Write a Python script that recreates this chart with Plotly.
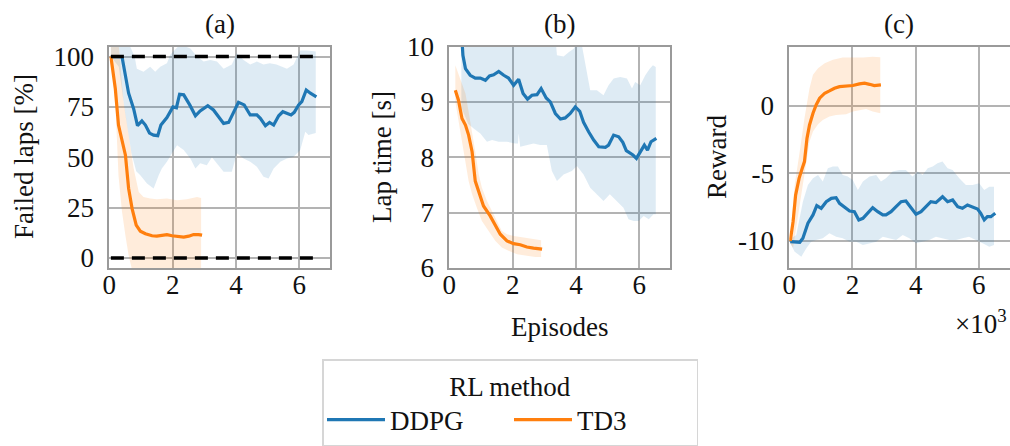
import plotly.graph_objects as go
from plotly.subplots import make_subplots

# ---------------- data (x in thousands of episodes) ----------------
# (a) Failed laps [%]
a_ddpg_x = [0.05, 0.4, 0.61, 0.77, 0.89, 1.03, 1.14, 1.27, 1.4, 1.53, 1.63, 1.82, 2.01, 2.12, 2.22, 2.35, 2.54, 2.72, 2.87, 2.98, 3.11, 3.29, 3.45, 3.61, 3.77, 3.93, 4.08, 4.26, 4.45, 4.66, 4.77, 4.93, 5.06, 5.19, 5.35, 5.48, 5.61, 5.74, 5.84, 5.98, 6.08, 6.22, 6.35, 6.54]
a_ddpg_y = [100, 100, 81.8, 74, 65.7, 68, 66, 62, 61, 60.7, 66, 69.7, 75, 74.6, 81.3, 81, 76, 70.6, 73, 74.3, 75.6, 73.5, 70, 66.8, 67.3, 72.6, 77.3, 76, 71, 71, 69.3, 65.7, 67.3, 66, 70.6, 72.6, 71.8, 71, 72.3, 76, 77.6, 83.4, 81.8, 80]
a_ddpg_hi_x = [0.05, 0.6, 0.8, 0.87, 1.08, 1.29, 1.45, 1.61, 1.82, 1.92, 2.05, 2.24, 2.56, 2.77, 2.98, 3.19, 3.4, 3.61, 3.87, 4.03, 4.24, 4.45, 4.66, 4.87, 5.07, 5.28, 5.61, 5.82, 6.03, 6.24, 6.52]
a_ddpg_hi = [107, 107, 100, 94, 92.5, 95, 92.5, 95, 96.7, 100.8, 103, 106, 104, 100, 97.5, 98.3, 97.5, 94, 96, 101.6, 98.3, 96, 97.5, 96, 96.7, 96, 94, 96, 103, 103, 102.5]
a_ddpg_lo_x = [0.05, 0.3, 0.5, 0.7, 0.85, 0.98, 1.19, 1.4, 1.56, 1.66, 1.82, 1.98, 2.14, 2.35, 2.56, 2.72, 2.87, 3.08, 3.24, 3.4, 3.61, 3.87, 4.03, 4.24, 4.45, 4.66, 4.87, 5.03, 5.19, 5.4, 5.61, 5.82, 6.03, 6.19, 6.29, 6.52]
a_ddpg_lo = [100, 95, 72, 52, 43, 41, 37, 34.5, 41, 44.4, 47.8, 52, 56, 53.6, 49.4, 44.4, 47, 46, 50, 47, 42.8, 42.8, 52, 49.4, 47.8, 45.3, 40.3, 39.5, 44.4, 47.8, 49.4, 50.2, 53.6, 62.7, 61, 62]
a_td3_x = [0.05, 0.19, 0.29, 0.4, 0.51, 0.61, 0.72, 0.85, 0.98, 1.14, 1.35, 1.5, 1.66, 1.82, 1.98, 2.14, 2.35, 2.51, 2.66, 2.82, 2.93]
a_td3_y = [100, 84, 66, 57.7, 51, 34.5, 24.5, 16.3, 13.3, 12, 11, 10.8, 11.3, 11.6, 11, 10.6, 10.3, 10.8, 11.6, 11.6, 11.3]
a_td3_hi_x = [0.05, 0.3, 0.45, 0.61, 0.77, 0.93, 1.08, 1.29, 1.5, 1.82, 2.14, 2.45, 2.77, 2.9]
a_td3_hi = [108, 105, 77.6, 61, 44.4, 32.8, 30.3, 29.5, 29.2, 29.5, 28.7, 29.2, 30.3, 29.8]
a_td3_lo_x = [0.05, 0.19, 0.29, 0.4, 0.51, 0.61, 0.75, 2.9]
a_td3_lo = [99, 77.6, 41, 23, 11, 1.3, -8, -8]
a_limits = [0, 100]

# (b) Lap time [s]
b_ddpg_x = [0.38, 0.43, 0.51, 0.66, 0.82, 0.98, 1.14, 1.27, 1.4, 1.56, 1.72, 1.87, 2.03, 2.19, 2.33, 2.47, 2.61, 2.77, 2.9, 3.06, 3.19, 3.35, 3.51, 3.66, 3.82, 3.98, 4.12, 4.24, 4.4, 4.56, 4.72, 4.93, 5.03, 5.19, 5.35, 5.48, 5.59, 5.72, 5.8, 5.91, 6.03, 6.16, 6.26, 6.37, 6.54]
b_ddpg_y = [10.3, 9.84, 9.6, 9.48, 9.43, 9.43, 9.39, 9.47, 9.49, 9.55, 9.48, 9.43, 9.3, 9.41, 9.15, 9.05, 9.12, 9.13, 9.24, 9.07, 9.0, 8.79, 8.69, 8.71, 8.79, 8.91, 8.83, 8.63, 8.46, 8.31, 8.19, 8.18, 8.22, 8.4, 8.37, 8.27, 8.12, 8.07, 8.04, 7.98, 8.1, 8.22, 8.13, 8.28, 8.34]
b_ddpg_hi_x = [0.38, 3.3, 3.4, 3.61, 3.78, 3.93, 4.13, 4.29, 4.45, 4.66, 4.87, 5.03, 5.19, 5.4, 5.61, 5.77, 5.87, 6.03, 6.19, 6.33, 6.43, 6.52]
b_ddpg_hi = [10.5, 10.5, 9.84, 9.82, 9.9, 9.96, 10.2, 9.72, 9.21, 9.21, 9.12, 9.3, 9.42, 9.45, 9.42, 9.24, 9.36, 9.3, 9.48, 9.6, 9.66, 9.63]
b_ddpg_lo_x = [0.38, 0.6, 0.77, 0.98, 1.19, 1.35, 1.56, 1.82, 2.08, 2.17, 2.19, 2.24, 2.45, 2.66, 2.87, 3.08, 3.24, 3.4, 3.61, 3.87, 4.03, 4.24, 4.45, 4.66, 4.87, 5.07, 5.28, 5.5, 5.66, 5.82, 5.98, 6.14, 6.3, 6.45, 6.52]
b_ddpg_lo = [8.9, 8.6, 8.52, 8.43, 8.28, 8.31, 8.28, 8.28, 8.25, 8.25, 8.43, 8.19, 8.22, 8.25, 8.22, 8.22, 7.75, 7.57, 7.69, 7.75, 7.84, 7.69, 7.45, 7.33, 7.21, 7.33, 7.21, 7.09, 6.88, 6.85, 6.85, 6.94, 6.88, 6.97, 6.97]
b_td3_x = [0.19, 0.29, 0.4, 0.51, 0.61, 0.72, 0.82, 0.93, 1.08, 1.29, 1.45, 1.61, 1.82, 2.03, 2.24, 2.45, 2.66, 2.93]
b_td3_y = [9.21, 9.03, 8.7, 8.58, 8.4, 8.1, 7.57, 7.39, 7.12, 6.94, 6.76, 6.61, 6.49, 6.44, 6.42, 6.38, 6.36, 6.34]
b_td3_hi_x = [0.19, 0.35, 0.51, 0.61, 0.72, 0.82, 0.93, 1.03, 1.19, 1.35, 1.5, 1.66, 1.82, 2.03, 2.35, 2.66, 2.9]
b_td3_hi = [9.66, 9.42, 9.15, 8.82, 8.46, 8.1, 7.69, 7.45, 7.21, 7.03, 6.85, 6.67, 6.61, 6.58, 6.55, 6.52, 6.5]
b_td3_lo_x = [0.19, 0.29, 0.4, 0.51, 0.61, 0.72, 0.87, 1.03, 1.24, 1.45, 1.66, 1.87, 2.14, 2.45, 2.72, 2.9]
b_td3_lo = [9.0, 8.7, 8.28, 7.92, 7.57, 7.33, 7.09, 6.85, 6.67, 6.49, 6.37, 6.31, 6.25, 6.22, 6.2, 6.2]

# (c) Reward
c_ddpg_x = [0.03, 0.17, 0.33, 0.43, 0.59, 0.75, 0.87, 1.01, 1.17, 1.33, 1.48, 1.59, 1.75, 1.91, 2.06, 2.2, 2.33, 2.48, 2.64, 2.8, 2.96, 3.06, 3.22, 3.38, 3.54, 3.69, 3.85, 4.01, 4.17, 4.33, 4.48, 4.64, 4.85, 5.01, 5.17, 5.33, 5.48, 5.64, 5.8, 5.96, 6.06, 6.17, 6.27, 6.38, 6.52]
c_ddpg_y = [-10.05, -10.05, -10.1, -9.8, -8.69, -8.07, -7.38, -7.58, -7.09, -6.84, -6.79, -7.21, -7.46, -7.78, -7.83, -8.44, -8.32, -7.95, -7.53, -7.83, -8.07, -8.07, -7.83, -7.46, -7.09, -7.04, -7.58, -8.02, -7.83, -7.46, -7.09, -7.16, -6.72, -7.09, -6.96, -7.46, -7.58, -7.33, -7.46, -7.63, -7.95, -8.44, -8.2, -8.2, -7.95]
c_ddpg_hi_x = [0.03, 0.22, 0.43, 0.59, 0.75, 0.91, 1.06, 1.22, 1.38, 1.54, 1.69, 1.85, 2.01, 2.17, 2.33, 2.54, 2.75, 2.9, 3.06, 3.27, 3.48, 3.69, 3.9, 4.06, 4.22, 4.38, 4.54, 4.69, 4.85, 5.01, 5.17, 5.38, 5.59, 5.8, 6.01, 6.17, 6.33, 6.48]
c_ddpg_hi = [-9.85, -9.56, -7.09, -5.85, -5.36, -5.11, -5.6, -4.62, -4.49, -4.49, -5.11, -5.23, -5.48, -6.22, -5.6, -5.23, -5.11, -5.6, -5.36, -4.86, -4.74, -4.74, -5.23, -4.86, -5.11, -4.62, -4.49, -4.25, -4.12, -4.62, -4.74, -5.36, -5.85, -5.85, -5.73, -6.22, -5.98, -5.98]
c_ddpg_lo_x = [0.03, 0.17, 0.38, 0.54, 0.69, 0.85, 1.06, 1.27, 1.48, 1.69, 1.91, 2.12, 2.33, 2.54, 2.75, 2.96, 3.17, 3.38, 3.59, 3.8, 4.01, 4.22, 4.43, 4.64, 4.85, 5.07, 5.28, 5.48, 5.69, 5.9, 6.12, 6.33, 6.48]
c_ddpg_lo = [-10.17, -10.8, -11.16, -10.54, -10.05, -9.93, -9.8, -9.43, -9.68, -9.8, -10.05, -10.05, -10.3, -10.17, -10.05, -9.68, -9.8, -9.93, -9.56, -9.8, -10.17, -10.05, -9.93, -9.68, -9.8, -9.93, -9.93, -9.8, -9.68, -9.93, -10.17, -10.42, -10.3]
c_td3_x = [0.03, 0.12, 0.2, 0.31, 0.41, 0.48, 0.56, 0.64, 0.75, 0.85, 0.96, 1.12, 1.27, 1.43, 1.59, 1.8, 2.01, 2.22, 2.38, 2.54, 2.69, 2.9]
c_td3_y = [-10, -8.57, -6.6, -5.36, -4.62, -4.12, -2.4, -1.41, -0.54, 0.07, 0.57, 0.94, 1.11, 1.31, 1.43, 1.48, 1.51, 1.63, 1.68, 1.6, 1.51, 1.56]
c_td3_hi_x = [0.03, 0.17, 0.33, 0.48, 0.64, 0.75, 0.91, 1.12, 1.38, 1.69, 2.01, 2.33, 2.64, 2.88]
c_td3_hi = [-9.8, -5.85, -3.38, -0.91, 1.31, 2.3, 2.79, 3.16, 3.41, 3.58, 3.58, 3.58, 3.65, 3.6]
c_td3_lo_x = [0.03, 0.12, 0.22, 0.33, 0.43, 0.54, 0.64, 0.75, 0.91, 1.06, 1.27, 1.48, 1.8, 2.01, 2.22, 2.43, 2.64, 2.88]
c_td3_lo = [-10.17, -10.5, -8.8, -7.1, -5.6, -4.12, -2.64, -1.9, -1.36, -1.04, -0.79, -0.67, -0.62, -0.42, -0.3, -0.22, -0.42, -0.54]

panel_titles = ["(a)", "(b)", "(c)"]
y_titles = ["Failed laps [%]", "Lap time [s]", "Reward"]
x_ticks = [0, 2, 4, 6]
y_ticks = [[0, 25, 50, 75, 100], [6, 7, 8, 9, 10], [-10, -5, 0]]
y_ticktext = [["0", "25", "50", "75", "100"], ["6", "7", "8", "9", "10"], ["-10", "-5", "0"]]
y_ranges = [[-5, 105], [6, 10], [-12, 4.4]]
methods = ["DDPG", "TD3"]

# ---------------- styling ----------------
W, H = 1010, 446
FONT = "Liberation Serif, Times New Roman, serif"
FS = 27
COLORS = {"DDPG": "#1f77b4", "TD3": "#ff7f0e"}
FILLS = {"DDPG": "rgba(31,119,180,0.15)", "TD3": "rgba(255,127,14,0.15)"}
TXT = "#111111"

fig = make_subplots(rows=1, cols=3)

panels = [
    {"DDPG": (a_ddpg_x, a_ddpg_y, a_ddpg_hi_x, a_ddpg_hi, a_ddpg_lo_x, a_ddpg_lo),
     "TD3": (a_td3_x, a_td3_y, a_td3_hi_x, a_td3_hi, a_td3_lo_x, a_td3_lo)},
    {"DDPG": (b_ddpg_x, b_ddpg_y, b_ddpg_hi_x, b_ddpg_hi, b_ddpg_lo_x, b_ddpg_lo),
     "TD3": (b_td3_x, b_td3_y, b_td3_hi_x, b_td3_hi, b_td3_lo_x, b_td3_lo)},
    {"DDPG": (c_ddpg_x, c_ddpg_y, c_ddpg_hi_x, c_ddpg_hi, c_ddpg_lo_x, c_ddpg_lo),
     "TD3": (c_td3_x, c_td3_y, c_td3_hi_x, c_td3_hi, c_td3_lo_x, c_td3_lo)},
]

for i, pdata in enumerate(panels):
    col = i + 1
    for m in methods:
        x, y, hx, hi, lx, lo = pdata[m]
        fig.add_trace(go.Scatter(x=list(hx) + list(lx)[::-1], y=list(hi) + list(lo)[::-1],
                                 fill="toself", fillcolor=FILLS[m], mode="lines",
                                 line=dict(width=0), hoverinfo="skip", showlegend=False),
                      row=1, col=col)
    for m in methods:
        x, y, hx, hi, lx, lo = pdata[m]
        fig.add_trace(go.Scatter(x=x, y=y, mode="lines", name=m,
                                 line=dict(color=COLORS[m], width=3.2),
                                 legendgroup=m, showlegend=(i == 0)),
                      row=1, col=col)

for v in a_limits:
    fig.add_trace(go.Scatter(x=[a_ddpg_x[0], a_ddpg_x[-1]], y=[v, v], mode="lines",
                             line=dict(color="black", width=3.4, dash="13px,8px"),
                             showlegend=False, hoverinfo="skip"), row=1, col=1)

x_doms = [(109.3, 330.0), (449.3, 670.0), (789.3, 1009.5)]
y_dom = (1 - 268.0 / H, 1 - 46.5 / H)
axis_common = dict(showline=True, linecolor="#9a9a9a", linewidth=2, mirror=True,
                   showgrid=True, gridcolor="#b3b3b3", gridwidth=1.6, zeroline=False,
                   automargin=False, ticks="",
                   tickfont=dict(family=FONT, size=FS, color=TXT))
for i in range(3):
    xa = "xaxis" if i == 0 else f"xaxis{i+1}"
    ya = "yaxis" if i == 0 else f"yaxis{i+1}"
    fig.layout[xa].update(domain=[x_doms[i][0] / W, x_doms[i][1] / W], range=[0, 6.97],
                          tickvals=x_ticks, ticklabelstandoff=-8, **axis_common)
    fig.layout[ya].update(domain=list(y_dom), range=y_ranges[i], tickvals=y_ticks[i],
                          ticktext=y_ticktext[i], ticklabelstandoff=8, **axis_common)

annotations = []
ylab_x = [24, 382, 717]
for i in range(3):
    cx = (x_doms[i][0] + x_doms[i][1]) / 2
    annotations.append(dict(text=panel_titles[i], x=cx / W, y=1 - 24 / H, xref="paper", yref="paper",
                            showarrow=False, font=dict(family=FONT, size=FS, color=TXT),
                            xanchor="center", yanchor="middle"))
    annotations.append(dict(text=y_titles[i], x=ylab_x[i] / W, y=1 - 157 / H, xref="paper", yref="paper",
                            showarrow=False, textangle=-90, font=dict(family=FONT, size=FS, color=TXT),
                            xanchor="center", yanchor="middle"))
annotations.append(dict(text="Episodes", x=(x_doms[1][0] + x_doms[1][1]) / 2 / W, y=1 - 327 / H,
                        xref="paper", yref="paper", showarrow=False,
                        font=dict(family=FONT, size=FS, color=TXT), xanchor="center", yanchor="middle"))
annotations.append(dict(text="×10<sup>3</sup>", x=1009 / W, y=1 - 322 / H, xref="paper", yref="paper",
                        showarrow=False, font=dict(family=FONT, size=FS, color=TXT),
                        xanchor="right", yanchor="middle"))

fig.update_layout(
    width=W, height=H, autosize=False,
    margin=dict(l=0, r=0, t=0, b=0, autoexpand=False),
    paper_bgcolor="white", plot_bgcolor="white",
    font=dict(family=FONT, size=FS, color=TXT),
    annotations=annotations,
    legend=dict(orientation="h", x=510 / W, xanchor="center", y=1 - 359 / H, yanchor="top",
                title=dict(text="RL method", side="top center", font=dict(family=FONT, size=FS, color=TXT)),
                font=dict(family=FONT, size=FS, color=TXT),
                bordercolor="#d6d6d6", borderwidth=1.5, bgcolor="white",
                itemwidth=58, entrywidth=114, tracegroupgap=0),
    showlegend=True,
)

fig.write_html("out.html")
